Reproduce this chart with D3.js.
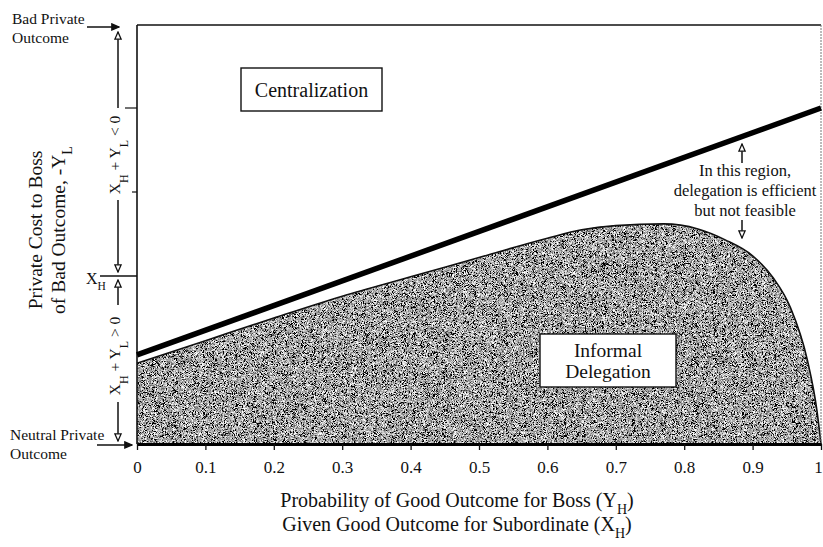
<!DOCTYPE html>
<html><head><meta charset="utf-8">
<script src="https://cdn.jsdelivr.net/npm/d3@7"></script>
<style>
body{margin:0;background:#fff;}
svg{display:block;}
text{font-family:"Liberation Serif","DejaVu Serif",serif;fill:#111;}
</style></head>
<body>
<svg id="chart" width="823" height="547"></svg>
<script>
// ---- data ----
const xTickValues = [0,0.1,0.2,0.3,0.4,0.5,0.6,0.7,0.8,0.9,1];
const xTickLabels = ["0","0.1","0.2","0.3","0.4","0.5","0.6","0.7","0.8","0.9","1"];
const boundaryX = [0, 1];
const boundaryY = [1.06, 4.0];
const curveX = [0, 0.1, 0.2, 0.3, 0.4, 0.5, 0.6, 0.65, 0.7, 0.77, 0.82, 0.86, 0.9, 0.93, 0.955, 0.98, 0.994, 1];
const curveY = [0.96, 1.23, 1.50, 1.76, 1.99, 2.22, 2.45, 2.55, 2.60, 2.62, 2.56, 2.43, 2.24, 1.98, 1.63, 1.00, 0.40, 0];
const xHLevel = 2;
const yMinorTicks = [3, 4];

const svg = d3.select("#chart");
const x = d3.scaleLinear().domain([0,1]).range([137,821]);
const y = d3.scaleLinear().domain([0,5]).range([444,24]);

const defs = svg.append("defs");
const f = defs.append("filter").attr("id","noise").attr("x",0).attr("y",0).attr("width","100%").attr("height","100%");
f.append("feTurbulence").attr("type","fractalNoise").attr("baseFrequency",1.9).attr("numOctaves",1).attr("seed",7).attr("result","t");
f.append("feColorMatrix").attr("in","t").attr("type","saturate").attr("values",0).attr("result","g");
const ct = f.append("feComponentTransfer").attr("in","g");
["feFuncR","feFuncG","feFuncB"].forEach(n=>ct.append(n).attr("type","linear").attr("slope",4.2).attr("intercept",-1.72));
ct.append("feFuncA").attr("type","linear").attr("slope",0).attr("intercept",1);

function mk(id, fill){
  defs.append("marker").attr("id",id).attr("viewBox","0 0 10 10").attr("refX",9).attr("refY",5)
    .attr("markerWidth",9).attr("markerHeight",9).attr("markerUnits","userSpaceOnUse").attr("orient","auto")
    .append("path").attr("d","M1,1.5 L9,5 L1,8.5 Z").attr("fill",fill).attr("stroke","#111").attr("stroke-width",1.4);
}
mk("arrF","#111"); mk("arrO","#fff");

const pts = curveX.map((v,i)=>[v,curveY[i]]);
const area = d3.area().x(d=>x(d[0])).y0(y(0)).y1(d=>y(d[1])).curve(d3.curveMonotoneX);
const line = d3.line().x(d=>x(d[0])).y(d=>y(d[1])).curve(d3.curveMonotoneX);

defs.append("clipPath").attr("id","areaClip").append("path").attr("d",area(pts));
const g = svg.append("g").attr("clip-path","url(#areaClip)");
g.append("rect").attr("x",x(0)).attr("y",y(3)).attr("width",x(1)-x(0)).attr("height",y(0)-y(3)).attr("fill","#222");
g.append("rect").attr("x",x(0)).attr("y",y(3)).attr("width",x(1)-x(0)).attr("height",y(0)-y(3)).attr("filter","url(#noise)");
svg.append("path").attr("d",line(pts)).attr("fill","none").attr("stroke","#111").attr("stroke-width",1.6);

// frame
svg.append("line").attr("x1",x(0)).attr("x2",x(1)).attr("y1",y(5)+1).attr("y2",y(5)+1).attr("stroke","#111").attr("stroke-width",1.5);
svg.append("line").attr("x1",x(1)).attr("x2",x(1)).attr("y1",y(5)+1).attr("y2",y(0)).attr("stroke","#777").attr("stroke-width",1).attr("stroke-dasharray","2,1");
svg.append("line").attr("x1",x(0)).attr("x2",x(0)).attr("y1",y(5)+1).attr("y2",y(0)).attr("stroke","#111").attr("stroke-width",1.6);
yMinorTicks.forEach((v,i)=>{
  svg.append("line").attr("x1",x(0)-(i? 12:5)).attr("x2",x(0)).attr("y1",y(v)).attr("y2",y(v)).attr("stroke","#111").attr("stroke-width",1.2);
});
svg.append("line").attr("x1",100).attr("x2",x(0)).attr("y1",y(xHLevel)).attr("y2",y(xHLevel)).attr("stroke","#111").attr("stroke-width",1.4);

// boundary line
svg.append("path").attr("d",d3.line().x(d=>x(d[0])).y(d=>y(d[1]))(boundaryX.map((v,i)=>[v,boundaryY[i]])))
  .attr("stroke","#000").attr("stroke-width",5.5).attr("fill","none");

// x axis
const ax = svg.append("g").attr("transform",`translate(0,${y(0)})`)
  .call(d3.axisBottom(x).tickValues(xTickValues).tickFormat((d,i)=>xTickLabels[i]).tickSize(6).tickSizeOuter(0).tickPadding(11));
ax.select(".domain").attr("stroke","#000").attr("stroke-width",3);
ax.selectAll(".tick line").attr("stroke","#111").attr("stroke-width",1.3);
ax.selectAll(".tick text").attr("font-family","Liberation Serif").attr("font-size",17).attr("fill","#111")
  .attr("dx",(d,i)=> i===xTickValues.length-1 ? "-3" : null);

// x title
svg.append("text").attr("x",457).attr("y",507).attr("text-anchor","middle").attr("font-size",20)
  .html('Probability of Good Outcome for Boss (Y<tspan dy="7" font-size="14">H</tspan><tspan dy="-7">)</tspan>');
svg.append("text").attr("x",457).attr("y",531).attr("text-anchor","middle").attr("font-size",20)
  .html('Given Good Outcome for Subordinate (X<tspan dy="7" font-size="14">H</tspan><tspan dy="-7">)</tspan>');

// y title
svg.append("text").attr("transform","translate(42,230) rotate(-90)").attr("text-anchor","middle").attr("font-size",19.5)
  .text("Private Cost to Boss");
svg.append("text").attr("transform","translate(65,230) rotate(-90)").attr("text-anchor","middle").attr("font-size",19.5)
  .html('of Bad Outcome, -Y<tspan dy="7" font-size="14">L</tspan>');

// left annotations
svg.append("text").attr("transform","translate(120,155) rotate(-90)").attr("text-anchor","middle").attr("font-size",15.5)
  .html('X<tspan dy="8" font-size="12">H</tspan><tspan dy="-8"> + Y</tspan><tspan dy="8" font-size="12">L</tspan><tspan dy="-8"> &lt; 0</tspan>');
svg.append("text").attr("transform","translate(120,356) rotate(-90)").attr("text-anchor","middle").attr("font-size",15.5)
  .html('X<tspan dy="8" font-size="12">H</tspan><tspan dy="-8"> + Y</tspan><tspan dy="8" font-size="12">L</tspan><tspan dy="-8"> &gt; 0</tspan>');
function arrow(x1,y1,x2,y2,m){
  svg.append("line").attr("x1",x1).attr("y1",y1).attr("x2",x2).attr("y2",y2).attr("stroke","#111").attr("stroke-width",1.5).attr("marker-end",`url(#${m})`);
}
arrow(118,108,118,32,"arrO");
arrow(118,200,118,272,"arrO");
arrow(118,305,118,280,"arrO");
arrow(118,402,118,441,"arrO");
arrow(87,27,119,27,"arrF");
arrow(97,445,132,445,"arrF");

svg.append("text").attr("x",86).attr("y",284).attr("font-size",16)
  .html('X<tspan dy="6" font-size="11.5">H</tspan>');

svg.append("text").attr("x",12).attr("y",24).attr("font-size",15.5).text("Bad Private");
svg.append("text").attr("x",12).attr("y",43).attr("font-size",15.5).text("Outcome");
svg.append("text").attr("x",10).attr("y",440).attr("font-size",15.5).text("Neutral Private");
svg.append("text").attr("x",10).attr("y",459).attr("font-size",15.5).text("Outcome");

// region labels
svg.append("rect").attr("x",241).attr("y",68).attr("width",141).attr("height",43).attr("fill","#fff").attr("stroke","#111").attr("stroke-width",1.4);
svg.append("text").attr("x",311.5).attr("y",97).attr("text-anchor","middle").attr("font-size",20).text("Centralization");
svg.append("rect").attr("x",540).attr("y",334).attr("width",136).attr("height",53).attr("fill","#fff").attr("stroke","#111").attr("stroke-width",1.4);
svg.append("text").attr("x",608).attr("y",357).attr("text-anchor","middle").attr("font-size",19.5).text("Informal");
svg.append("text").attr("x",608).attr("y",378).attr("text-anchor","middle").attr("font-size",19.5).text("Delegation");

// right annotation
[["In this region,",176],["delegation is efficient",196],["but not feasible",216]].forEach(d=>{
  svg.append("text").attr("x",745).attr("y",d[1]).attr("text-anchor","middle").attr("font-size",16.5).text(d[0]);
});
arrow(742,163,742,144,"arrO");
arrow(742,220,742,238,"arrO");
</script>
</body></html>
